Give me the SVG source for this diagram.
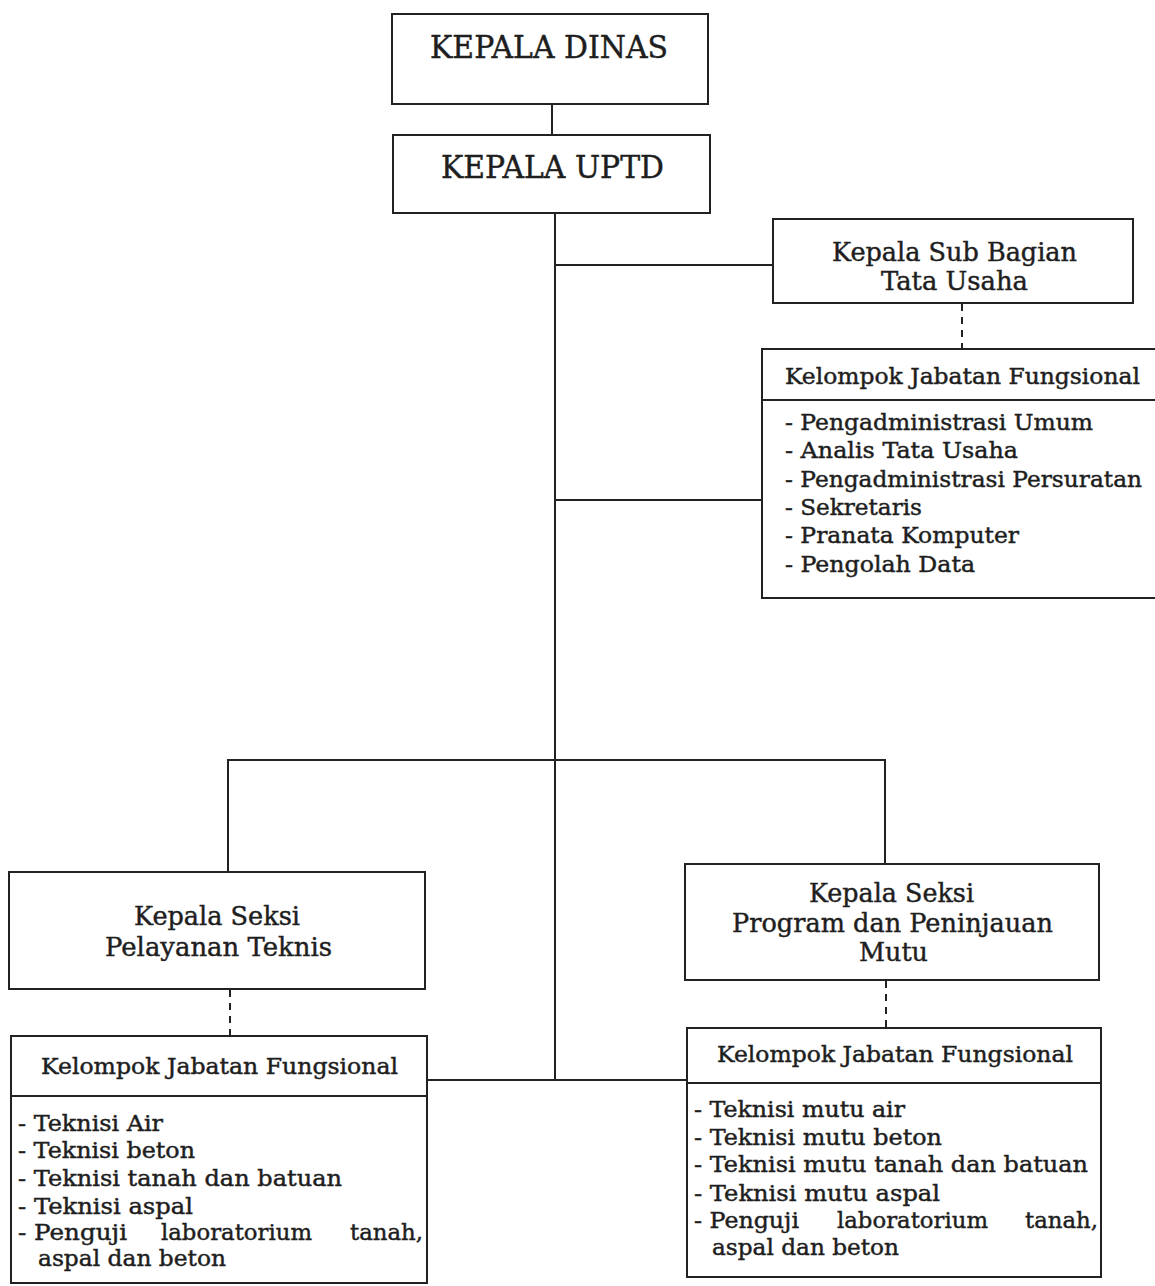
<svg xmlns="http://www.w3.org/2000/svg" width="1155" height="1286" viewBox="0 0 1155 1286">
<style>
  .box { fill: none; stroke: #222; stroke-width: 2; }
  .ln { fill: none; stroke: #222; stroke-width: 2; }
  .dash { fill: none; stroke: #222; stroke-width: 2; stroke-dasharray: 7 6; }
  text { font-family: "DejaVu Serif", "Liberation Serif", serif; fill: #1e1e1e; stroke: #1e1e1e; stroke-width: 0.45; }
  .h1 { font-size: 32px; }
  .h2 { font-size: 26px; }
  .hd { font-size: 22px; }
  .it { font-size: 23px; }
</style>
<rect width="1155" height="1286" fill="#ffffff"/>

<g id="connectors">
  <line class="ln" x1="552" y1="104" x2="552" y2="135"/>
  <line class="ln" x1="555" y1="213" x2="555" y2="1080"/>
  <line class="ln" x1="555" y1="265" x2="773" y2="265"/>
  <line class="ln" x1="555" y1="500" x2="762" y2="500"/>
  <polyline class="ln" points="228,872 228,760 885,760 885,864"/>
  <line class="ln" x1="427" y1="1080" x2="687" y2="1080"/>
  <line class="dash" x1="962" y1="304" x2="962" y2="349"/>
  <line class="dash" x1="230" y1="990" x2="230" y2="1036"/>
  <line class="dash" x1="886" y1="981" x2="886" y2="1028"/>
</g>

<g id="kepala-dinas">
  <rect class="box" x="392" y="14" width="316" height="90"/>
  <text class="h1" x="430" y="58" textLength="238" lengthAdjust="spacingAndGlyphs">KEPALA DINAS</text>
</g>

<g id="kepala-uptd">
  <rect class="box" x="393" y="135" width="317" height="78"/>
  <text class="h1" x="441" y="178" textLength="223" lengthAdjust="spacingAndGlyphs">KEPALA UPTD</text>
</g>

<g id="kasubag-tu">
  <rect class="box" x="773" y="219" width="360" height="84"/>
  <text class="h2" x="832" y="261" textLength="245" lengthAdjust="spacingAndGlyphs">Kepala Sub Bagian</text>
  <text class="h2" x="881" y="290" textLength="147" lengthAdjust="spacingAndGlyphs">Tata Usaha</text>
</g>

<g id="jf-tu">
  <rect class="box" x="762" y="349" width="400" height="249"/>
  <line class="ln" x1="762" y1="400" x2="1160" y2="400"/>
  <text class="hd" x="785" y="384" textLength="355" lengthAdjust="spacingAndGlyphs">Kelompok Jabatan Fungsional</text>
  <text class="it" x="785" y="430" textLength="308" lengthAdjust="spacingAndGlyphs">- Pengadministrasi Umum</text>
  <text class="it" x="785" y="458" textLength="233" lengthAdjust="spacingAndGlyphs">- Analis Tata Usaha</text>
  <text class="it" x="785" y="487" textLength="357" lengthAdjust="spacingAndGlyphs">- Pengadministrasi Persuratan</text>
  <text class="it" x="785" y="515" textLength="137" lengthAdjust="spacingAndGlyphs">- Sekretaris</text>
  <text class="it" x="785" y="543" textLength="234" lengthAdjust="spacingAndGlyphs">- Pranata Komputer</text>
  <text class="it" x="785" y="572" textLength="190" lengthAdjust="spacingAndGlyphs">- Pengolah Data</text>
</g>

<g id="kasi-pelayanan-teknis">
  <rect class="box" x="9" y="872" width="416" height="117"/>
  <text class="h2" x="134" y="925" textLength="166" lengthAdjust="spacingAndGlyphs">Kepala Seksi</text>
  <text class="h2" x="105" y="956" textLength="227" lengthAdjust="spacingAndGlyphs">Pelayanan Teknis</text>
</g>

<g id="jf-pelayanan-teknis">
  <rect class="box" x="11" y="1036" width="416" height="247"/>
  <line class="ln" x1="11" y1="1096" x2="427" y2="1096"/>
  <text class="hd" x="41" y="1074" textLength="357" lengthAdjust="spacingAndGlyphs">Kelompok Jabatan Fungsional</text>
  <text class="it" x="18" y="1131" textLength="145" lengthAdjust="spacingAndGlyphs">- Teknisi Air</text>
  <text class="it" x="18" y="1158" textLength="177" lengthAdjust="spacingAndGlyphs">- Teknisi beton</text>
  <text class="it" x="18" y="1186" textLength="324" lengthAdjust="spacingAndGlyphs">- Teknisi tanah dan batuan</text>
  <text class="it" x="18" y="1214" textLength="175" lengthAdjust="spacingAndGlyphs">- Teknisi aspal</text>
  <text class="it" y="1240"><tspan x="18" textLength="109" lengthAdjust="spacingAndGlyphs">- Penguji</tspan><tspan x="161" textLength="151" lengthAdjust="spacingAndGlyphs">laboratorium</tspan><tspan x="350" textLength="73" lengthAdjust="spacingAndGlyphs">tanah,</tspan></text>
  <text class="it" x="38" y="1266" textLength="188" lengthAdjust="spacingAndGlyphs">aspal dan beton</text>
</g>

<g id="kasi-program-mutu">
  <rect class="box" x="685" y="864" width="414" height="116"/>
  <text class="h2" x="809" y="902" textLength="165" lengthAdjust="spacingAndGlyphs">Kepala Seksi</text>
  <text class="h2" x="732" y="932" textLength="321" lengthAdjust="spacingAndGlyphs">Program dan Peninjauan</text>
  <text class="h2" x="859" y="961" textLength="69" lengthAdjust="spacingAndGlyphs">Mutu</text>
</g>

<g id="jf-program-mutu">
  <rect class="box" x="687" y="1028" width="414" height="249"/>
  <line class="ln" x1="687" y1="1083" x2="1101" y2="1083"/>
  <text class="hd" x="717" y="1062" textLength="356" lengthAdjust="spacingAndGlyphs">Kelompok Jabatan Fungsional</text>
  <text class="it" x="694" y="1117" textLength="211" lengthAdjust="spacingAndGlyphs">- Teknisi mutu air</text>
  <text class="it" x="694" y="1145" textLength="248" lengthAdjust="spacingAndGlyphs">- Teknisi mutu beton</text>
  <text class="it" x="694" y="1172" textLength="394" lengthAdjust="spacingAndGlyphs">- Teknisi mutu tanah dan batuan</text>
  <text class="it" x="694" y="1201" textLength="246" lengthAdjust="spacingAndGlyphs">- Teknisi mutu aspal</text>
  <text class="it" y="1228"><tspan x="694" textLength="105" lengthAdjust="spacingAndGlyphs">- Penguji</tspan><tspan x="837" textLength="151" lengthAdjust="spacingAndGlyphs">laboratorium</tspan><tspan x="1025" textLength="73" lengthAdjust="spacingAndGlyphs">tanah,</tspan></text>
  <text class="it" x="712" y="1255" textLength="187" lengthAdjust="spacingAndGlyphs">aspal dan beton</text>
</g>
</svg>
